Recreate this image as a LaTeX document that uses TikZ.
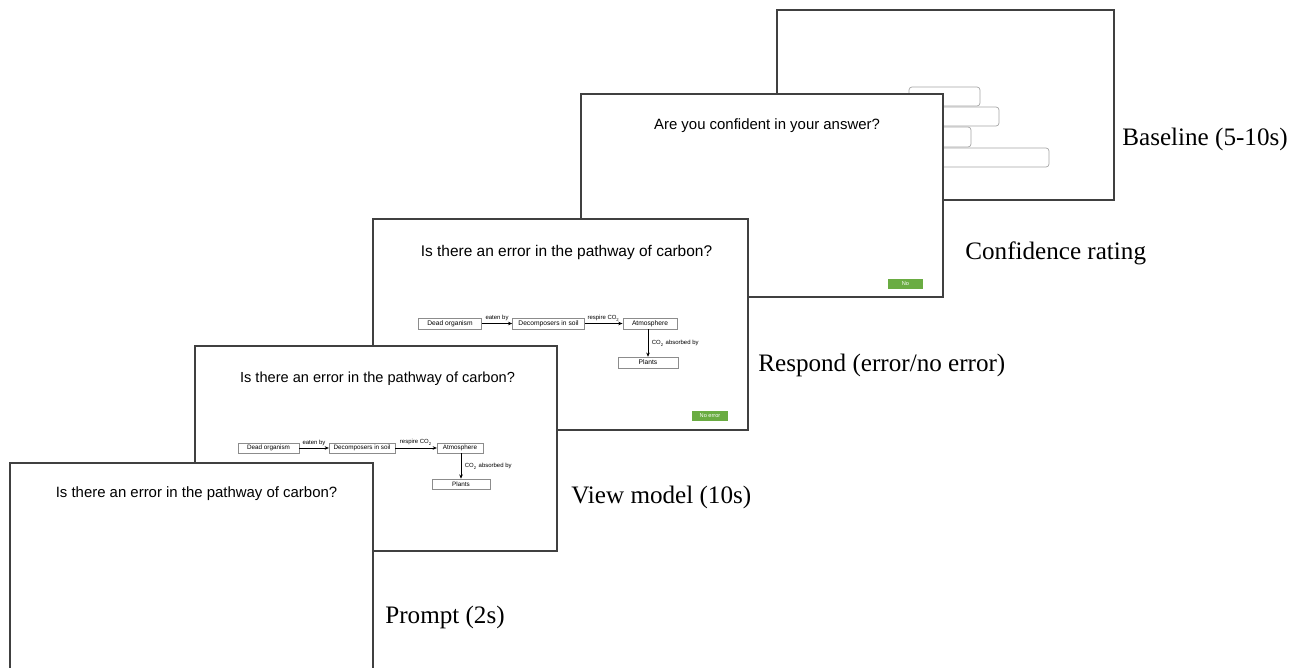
\documentclass[tikz,border=0pt]{standalone}
\usepackage{fontspec}
\setmainfont{Liberation Serif}
\setsansfont{Liberation Sans}
\usetikzlibrary{arrows.meta}
\definecolor{btngreen}{RGB}{106,172,66}

\begin{document}
\begin{tikzpicture}
[x=0.02cm, y=-0.02cm,
every node/.style={inner sep=0pt},
screen/.style={draw=black!75, fill=white, line width=0.8pt},
bar/.style={draw=black!35, fill=white, line width=0.4pt, rounded corners=1.7pt},
title/.style={font=\sffamily\fontsize{8.5}{9}\selectfont},
box/.style={draw=black!45, fill=white, line width=0.3pt, minimum height=6.2pt, font=\sffamily\fontsize{3.8}{4}\selectfont},
sbox/.style={box, minimum height=5.7pt, font=\sffamily\fontsize{3.6}{4}\selectfont},
lab/.style={font=\sffamily\fontsize{3.4}{4}\selectfont},
flow/.style={-{Stealth[length=2.4pt, width=2pt]}, line width=0.4pt},
btn/.style={fill=btngreen, text=white, minimum height=5.7pt, font=\sffamily\fontsize{3.2}{4}\selectfont},
step label/.style={anchor=west, font=\fontsize{14.3}{16}\selectfont}]

\useasboundingbox (0,0) rectangle (1300,668);

% baseline
\draw[screen] (777,10) rectangle (1114,200);
\draw[bar] (909,87) rectangle (980,106);
\draw[bar] (909,107) rectangle (999,126);
\draw[bar] (909,127) rectangle (971,147);
\draw[bar] (909,148) rectangle (1049,167);
\node[step label] (lbase) at (1122,139) {Baseline (5-10s)};

% confidence rating
\draw[screen] (581,94) rectangle (943,297);
\node[title] (tconf) at (767,126) {Are you confident in your answer?};
\node[btn, minimum width=19.8pt] (bno) at (905.5,284) {No};
\node[step label] (lconf) at (965,253) {Confidence rating};

% respond
\draw[screen] (373,219) rectangle (748,430);
\node[title, font=\sffamily\fontsize{8.8}{9}\selectfont] (tresp) at (566.5,253) {Is there an error in the pathway of carbon?};
\node[box, minimum width=36pt] (rdead) at (450,323.5) {Dead organism};
\node[box, minimum width=41pt] (rdec) at (548.5,323.5) {Decomposers in soil};
\node[box, minimum width=31pt] (ratm) at (650,323.5) {Atmosphere};
\node[box, minimum width=34pt] (rpl) at (648,362.5) {Plants};
\draw[flow] (rdead) -- node[lab, above=1.2pt] (re1) {eaten by} (rdec);
\draw[flow] (rdec) -- node[lab, above=1.2pt] (re2) {respire CO\textsubscript{2}} (ratm);
\draw[flow] (ratm.south -| rpl) -- node[lab, right=2pt] (re3) {CO\textsubscript{2} absorbed by} (rpl);
\node[btn, minimum width=20.4pt] (berr) at (710,416) {No error};
\node[step label] (lresp) at (758,365) {Respond (error/no error)};

% view model
\draw[screen] (195,346) rectangle (557,551);
\node[title, font=\sffamily\fontsize{8.3}{9}\selectfont] (tview) at (377.5,379) {Is there an error in the pathway of carbon?};
\node[sbox, minimum width=34.6pt] (vdead) at (268.5,448) {Dead organism};
\node[sbox, minimum width=37.4pt] (vdec) at (362,448) {Decomposers in soil};
\node[sbox, minimum width=26pt] (vatm) at (460,448) {Atmosphere};
\node[sbox, minimum width=33pt] (vpl) at (461,484) {Plants};
\draw[flow] (vdead) -- node[lab, above=1.1pt] (ve1) {eaten by} (vdec);
\draw[flow] (vdec) -- node[lab, above=1.1pt] (ve2) {respire CO\textsubscript{2}} (vatm);
\draw[flow] (vatm.south -| vpl) -- node[lab, right=2pt] (ve3) {CO\textsubscript{2} absorbed by} (vpl);
\node[step label] (lview) at (571,497) {View model (10s)};

% prompt
\draw[screen] (10,463) rectangle (373,671);
\node[title] (tprompt) at (196.5,494) {Is there an error in the pathway of carbon?};
\node[step label] (lprompt) at (385,617) {Prompt (2s)};
\end{tikzpicture}
\end{document}
